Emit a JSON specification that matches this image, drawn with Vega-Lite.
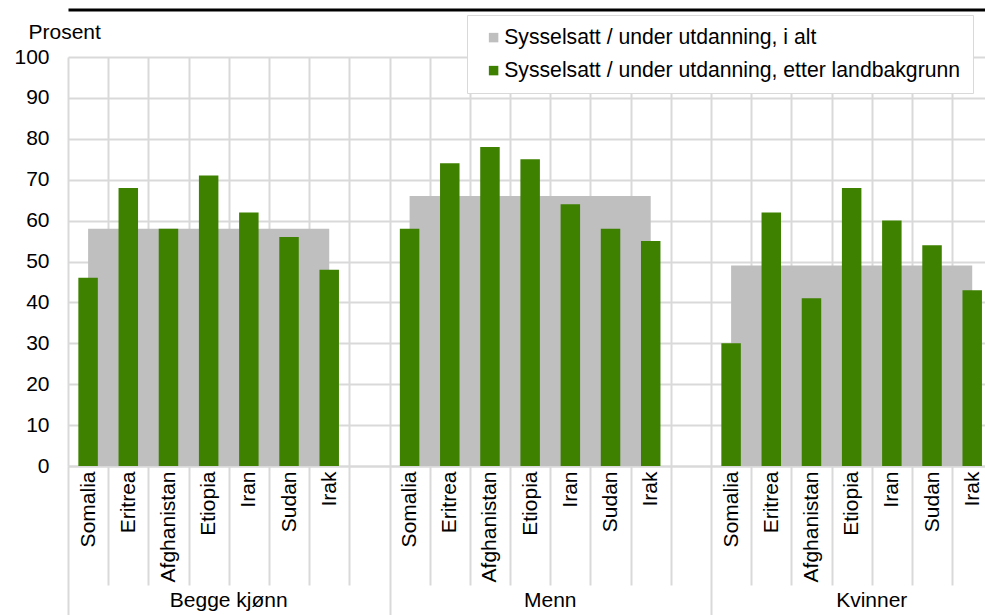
{
  "$schema": "https://vega.github.io/schema/vega-lite/v6.json",
  "width": 917,
  "height": 409,
  "autosize": {"type": "none"},
  "padding": {"left": 68, "top": 57, "right": 0, "bottom": 149},
  "background": "white",
  "config": {
    "font": "Liberation Sans",
    "view": {"stroke": null},
    "axis": {"labelColor": "black", "titleColor": "black", "labelFont": "Liberation Sans", "titleFont": "Liberation Sans"}
  },
  "data": {
    "values": [
      {"slot": "Somalia|Begge kjønn", "kjonn": "Begge kjønn", "land": "Somalia", "andel": 46, "alt": 58},
      {"slot": "Eritrea|Begge kjønn", "kjonn": "Begge kjønn", "land": "Eritrea", "andel": 68, "alt": 58},
      {"slot": "Afghanistan|Begge kjønn", "kjonn": "Begge kjønn", "land": "Afghanistan", "andel": 58, "alt": 58},
      {"slot": "Etiopia|Begge kjønn", "kjonn": "Begge kjønn", "land": "Etiopia", "andel": 71, "alt": 58},
      {"slot": "Iran|Begge kjønn", "kjonn": "Begge kjønn", "land": "Iran", "andel": 62, "alt": 58},
      {"slot": "Sudan|Begge kjønn", "kjonn": "Begge kjønn", "land": "Sudan", "andel": 56, "alt": 58},
      {"slot": "Irak|Begge kjønn", "kjonn": "Begge kjønn", "land": "Irak", "andel": 48, "alt": 58},
      {"slot": "Somalia|Menn", "kjonn": "Menn", "land": "Somalia", "andel": 58, "alt": 66},
      {"slot": "Eritrea|Menn", "kjonn": "Menn", "land": "Eritrea", "andel": 74, "alt": 66},
      {"slot": "Afghanistan|Menn", "kjonn": "Menn", "land": "Afghanistan", "andel": 78, "alt": 66},
      {"slot": "Etiopia|Menn", "kjonn": "Menn", "land": "Etiopia", "andel": 75, "alt": 66},
      {"slot": "Iran|Menn", "kjonn": "Menn", "land": "Iran", "andel": 64, "alt": 66},
      {"slot": "Sudan|Menn", "kjonn": "Menn", "land": "Sudan", "andel": 58, "alt": 66},
      {"slot": "Irak|Menn", "kjonn": "Menn", "land": "Irak", "andel": 55, "alt": 66},
      {"slot": "Somalia|Kvinner", "kjonn": "Kvinner", "land": "Somalia", "andel": 30, "alt": 49},
      {"slot": "Eritrea|Kvinner", "kjonn": "Kvinner", "land": "Eritrea", "andel": 62, "alt": 49},
      {"slot": "Afghanistan|Kvinner", "kjonn": "Kvinner", "land": "Afghanistan", "andel": 41, "alt": 49},
      {"slot": "Etiopia|Kvinner", "kjonn": "Kvinner", "land": "Etiopia", "andel": 68, "alt": 49},
      {"slot": "Iran|Kvinner", "kjonn": "Kvinner", "land": "Iran", "andel": 60, "alt": 49},
      {"slot": "Sudan|Kvinner", "kjonn": "Kvinner", "land": "Sudan", "andel": 54, "alt": 49},
      {"slot": "Irak|Kvinner", "kjonn": "Kvinner", "land": "Irak", "andel": 43, "alt": 49}
    ]
  },
  "layer": [
    {
      "mark": {"type": "area", "stroke": null},
      "encoding": {
        "x": {
          "field": "slot",
          "type": "nominal",
          "sort": null,
          "scale": {
            "domain": [
              "Somalia|Begge kjønn", "Eritrea|Begge kjønn", "Afghanistan|Begge kjønn", "Etiopia|Begge kjønn", "Iran|Begge kjønn", "Sudan|Begge kjønn", "Irak|Begge kjønn", "|Begge kjønn",
              "Somalia|Menn", "Eritrea|Menn", "Afghanistan|Menn", "Etiopia|Menn", "Iran|Menn", "Sudan|Menn", "Irak|Menn", "|Menn",
              "Somalia|Kvinner", "Eritrea|Kvinner", "Afghanistan|Kvinner", "Etiopia|Kvinner", "Iran|Kvinner", "Sudan|Kvinner", "Irak|Kvinner", "|Kvinner"
            ],
            "range": [0, 964.5],
            "paddingInner": 0,
            "paddingOuter": 0
          },
          "axis": {
            "orient": "bottom",
            "title": null,
            "tickBand": "extent",
            "grid": true,
            "gridColor": "#d9d9d9",
            "gridWidth": 2,
            "ticks": true,
            "tickColor": "#d9d9d9",
            "tickWidth": 2,
            "tickSize": {"condition": {"test": "!isValid(datum.value) || indexof(['|Begge kjønn','|Menn'], datum.value) >= 0", "value": 160}, "value": 119},
            "domain": true,
            "domainColor": "#d9d9d9",
            "domainWidth": 2,
            "labelExpr": "isValid(datum.value) ? split(datum.value, '|')[0] : ''",
            "labelAngle": 270,
            "labelAlign": "right",
            "labelBaseline": "middle",
            "labelFontSize": 21,
            "labelPadding": -114,
            "labelOverlap": false,
            "labelLimit": 0
          }
        },
        "y": {
          "field": "alt",
          "type": "quantitative",
          "stack": null,
          "scale": {"domain": [0, 100], "nice": false},
          "axis": {
            "values": [0, 10, 20, 30, 40, 50, 60, 70, 80, 90, 100],
            "domain": false,
            "ticks": false,
            "grid": true,
            "gridColor": "#d9d9d9",
            "gridWidth": 2,
            "labelFontSize": 21,
            "labelPadding": 19,
            "title": "Prosent",
            "titleAngle": 0,
            "titleX": -40,
            "titleY": -25,
            "titleAlign": "left",
            "titleBaseline": "middle",
            "titleFontSize": 21,
            "titleFontWeight": "normal"
          }
        },
        "detail": {"field": "kjonn"},
        "color": {
          "datum": "Sysselsatt / under utdanning, i alt",
          "type": "nominal",
          "scale": {
            "domain": ["Sysselsatt / under utdanning, i alt", "Sysselsatt / under utdanning, etter landbakgrunn"],
            "range": ["#bfbfbf", "#3e8100"]
          },
          "legend": {
            "orient": "none",
            "legendX": 399,
            "legendY": -42,
            "title": null,
            "fillColor": "white",
            "strokeColor": "#d9d9d9",
            "padding": 12,
            "symbolOffset": 4,
            "symbolType": "square",
            "symbolSize": 90,
            "symbolStrokeWidth": 0,
            "labelFontSize": 21.2,
            "labelFont": "Liberation Sans",
            "labelColor": "black",
            "labelOffset": 0,
            "labelLimit": 0,
            "rowPadding": 11,
            "encode": {"legend": {"update": {"strokeWidth": {"value": 2}}}}
          }
        }
      }
    },
    {
      "mark": {"type": "bar", "width": {"band": 0.485}},
      "encoding": {
        "x": {
          "field": "slot",
          "type": "nominal",
          "sort": null,
          "axis": {
            "orient": "bottom",
            "title": null,
            "values": ["Etiopia|Begge kjønn", "Etiopia|Menn", "Etiopia|Kvinner"],
            "labelExpr": "split(datum.value, '|')[1]",
            "labelOffset": 20.1,
            "labelPadding": 123,
            "labelAngle": 0,
            "labelAlign": "center",
            "labelBaseline": "top",
            "labelFontSize": 21,
            "domain": false,
            "ticks": false,
            "grid": false,
            "labelOverlap": false
          }
        },
        "y": {"field": "andel", "type": "quantitative"},
        "color": {"datum": "Sysselsatt / under utdanning, etter landbakgrunn", "type": "nominal"}
      }
    },
    {
      "mark": {"type": "text", "text": "", "opacity": 0},
      "encoding": {
        "x": {
          "field": "slot",
          "type": "nominal",
          "sort": null,
          "axis": {
            "orient": "top",
            "title": null,
            "offset": 47.5,
            "domain": true,
            "domainColor": "black",
            "domainWidth": 3,
            "labels": false,
            "ticks": false,
            "grid": false
          }
        }
      }
    }
  ],
  "resolve": {"axis": {"x": "independent"}}
}
